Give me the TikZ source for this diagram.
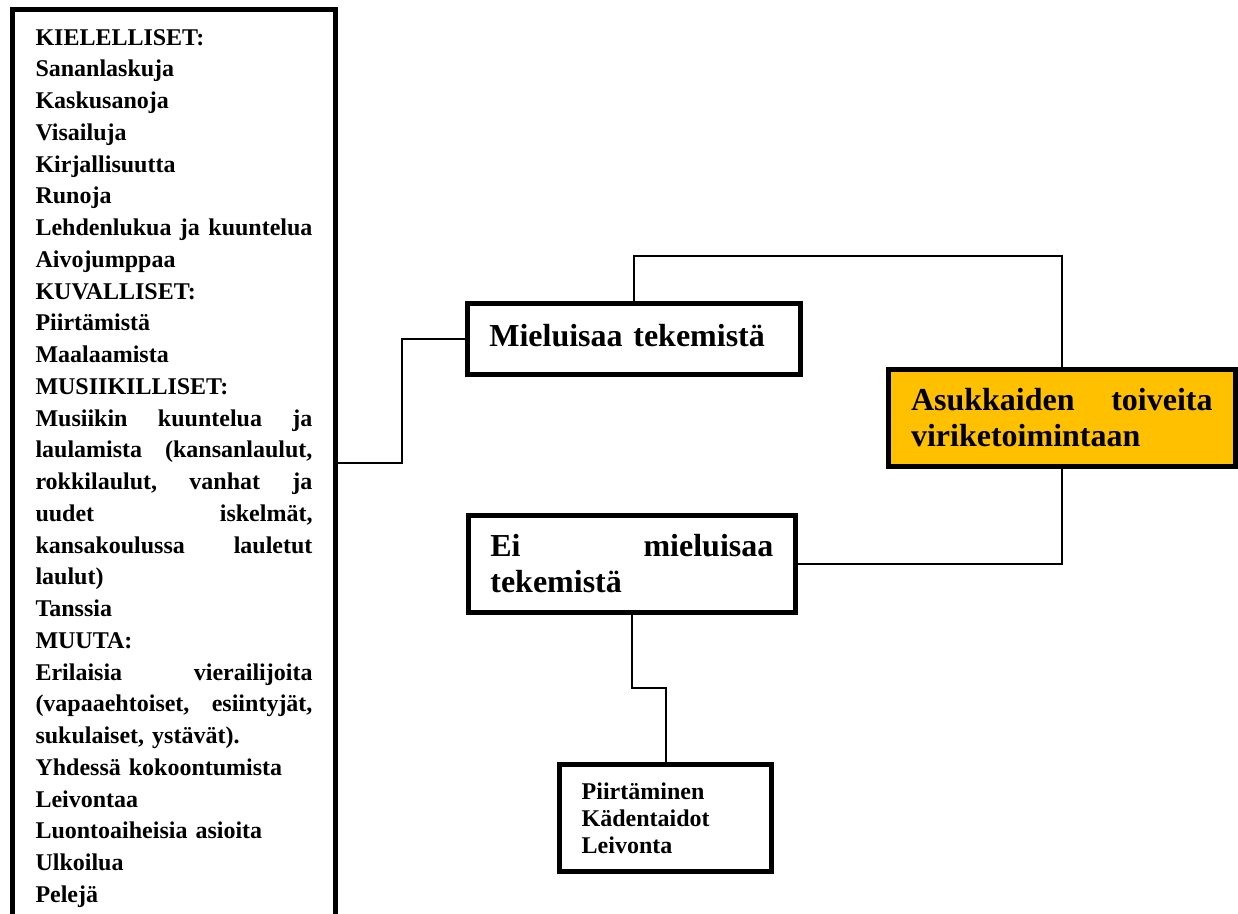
\documentclass[tikz,border=0pt]{standalone}
\usepackage{fontspec}
\setmainfont{Liberation Serif}
\usetikzlibrary{calc}
\definecolor{wishgold}{HTML}{FFC000}

\begin{document}
\begin{tikzpicture}[x=0.5pt,y=-0.5pt,
  frame/.style={draw, line width=2.5pt, outer sep=0pt, align=left, inner ysep=0pt},
  big/.style={font=\fontsize{16}{18}\selectfont\bfseries},
  small/.style={font=\fontsize{12}{13.5}\selectfont\bfseries},
  link/.style={line width=1pt}]
\useasboundingbox (0,0) rectangle (1238,914);

% list of activities (runs off the page at the bottom)
\node[frame, anchor=north west, inner xsep=11.5pt, inner ysep=9.7pt, text width=138.5pt,
  font=\fontsize{12}{15.875}\selectfont\bfseries] (kinds) at (12.5,9.8) {%
KIELELLISET:\\
Sananlaskuja\\
Kaskusanoja\\
Visailuja\\
Kirjallisuutta\\
Runoja\\
Lehdenlukua\hfill ja\hfill kuuntelua\\
Aivojumppaa\\
KUVALLISET:\\
Piirtämistä\\
Maalaamista\\
MUSIIKILLISET:\\
Musiikin\hfill kuuntelua\hfill ja\\
laulamista\hfill (kansanlaulut,\\
rokkilaulut,\hfill vanhat\hfill ja\\
uudet\hfill iskelmät,\\
kansakoulussa\hfill lauletut\\
laulut)\\
Tanssia\\
MUUTA:\\
Erilaisia\hfill vierailijoita\\
(vapaaehtoiset,\hfill esiintyjät,\\
sukulaiset, ystävät).\\
Yhdessä kokoontumista\\
Leivontaa\\
Luontoaiheisia asioita\\
Ulkoilua\\
Pelejä};

\node[frame, big, minimum width=166.65pt, minimum height=35.35pt, inner xsep=10.9pt,
  text width=144.8pt, text depth=3pt] (likes) at (634.15,338.85) {Mieluisaa tekemistä};
\node[frame, big, fill=wishgold, minimum width=173.35pt, minimum height=48.8pt,
  inner xsep=11.25pt, text width=150.8pt] (wish) at (1061.85,418)
  {Asukkaiden\hfill toiveita\\viriketoimintaan};
\node[frame, big, minimum width=163.35pt, minimum height=48.65pt, inner xsep=10.75pt,
  text width=141.5pt] (dislike) at (631.85,563.85) {Ei\hfill mieluisaa\\tekemistä};
\node[frame, small, minimum width=106.3pt, minimum height=53.8pt, inner xsep=11.25pt,
  text width=83.8pt] (craft) at (665.5,818) {Piirtäminen\\Kädentaidot\\Leivonta};

\coordinate (kink) at (401.5,463);
\draw[link] (likes.west) -| (kink) -- (kink -| kinds.east);
\draw[link] (likes.north) -- ++(0,-47.5) -| (wish.north);
\draw[link] (wish.south) |- (dislike.east);
\draw[link] (dislike.south) |- ($(dislike.south)!.5!(craft.north)$) -| (craft.north);
\end{tikzpicture}
\end{document}
